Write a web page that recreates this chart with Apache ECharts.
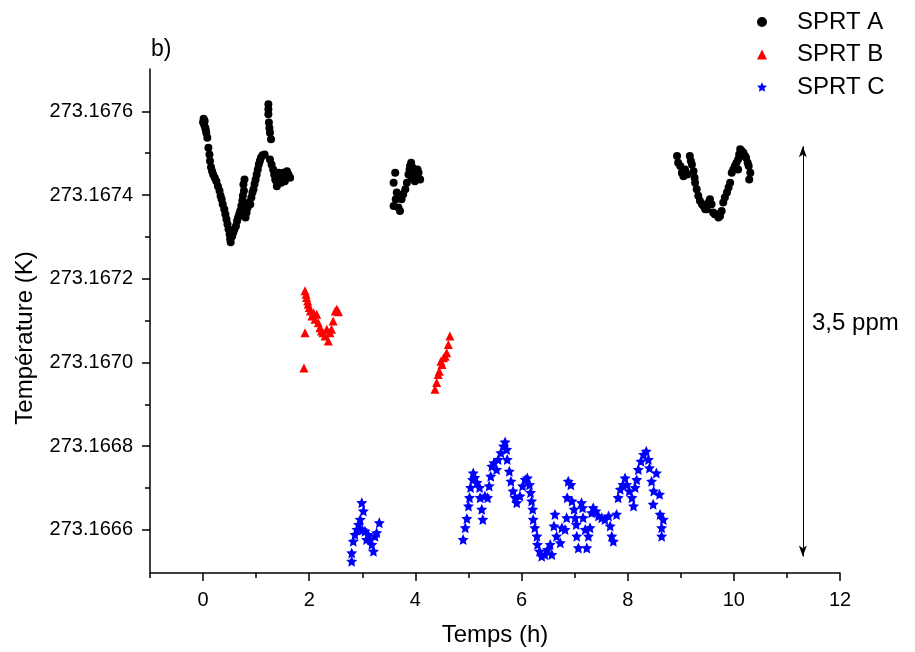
<!DOCTYPE html>
<html>
<head>
<meta charset="utf-8">
<script src="https://cdn.jsdelivr.net/npm/echarts@6/dist/echarts.min.js"></script>
<style>html,body{margin:0;padding:0;background:#fff}#c{width:915px;height:652px}</style>
</head>
<body>
<div id="c"></div>
<script>
const seriesNames = ['SPRT A', 'SPRT B', 'SPRT C'];
const xMajorTicks = [0, 2, 4, 6, 8, 10, 12];
const xMinorTicks = [-1, 1, 3, 5, 7, 9, 11];
const yMajorTicks = [273.1666, 273.1668, 273.1670, 273.1672, 273.1674, 273.1676];
const yMinorTicks = [273.1667, 273.1669, 273.1671, 273.1673, 273.1675];
const ppmArrow = [11.3, 273.1675163, 273.1665365];

const sprtA = [
[0.00,273.167574],[0.01,273.167582],[0.02,273.167568],[0.03,273.167577],[0.04,273.167561],[0.05,273.167556],[0.06,273.167549],[0.08,273.167537],[0.10,273.167513],[0.12,273.167497],[0.13,273.167481],[0.15,273.167466],[0.17,273.167457],[0.19,273.167449],[0.22,273.167441],[0.25,273.167433],[0.28,273.167421],[0.31,273.167410],[0.33,273.167398],[0.35,273.167390],[0.37,273.167378],[0.40,273.167366],[0.42,273.167354],[0.44,273.167342],[0.46,273.167330],[0.48,273.167318],[0.50,273.167306],[0.51,273.167295],[0.52,273.167287],[0.53,273.167299],
[0.55,273.167302],[0.57,273.167311],[0.59,273.167318],[0.62,273.167326],[0.64,273.167338],[0.66,273.167346],[0.68,273.167354],[0.70,273.167362],[0.72,273.167374],[0.74,273.167386],[0.75,273.167398],[0.77,273.167410],[0.76,273.167425],[0.78,273.167437],[0.80,273.167346],[0.82,273.167358],[0.84,273.167370],[0.86,273.167382],[0.89,273.167378],[0.91,273.167394],[0.93,273.167406],[0.95,273.167414],[0.97,273.167426],[0.99,273.167437],[1.01,273.167449],[1.03,273.167461],[1.05,273.167473],[1.07,273.167481],[1.09,273.167489],[1.12,273.167495],[1.16,273.167497],
[1.23,273.167617],[1.23,273.167605],[1.23,273.167593],[1.24,273.167573],[1.25,273.167560],[1.26,273.167549],[1.28,273.167533],
[1.26,273.167485],[1.29,273.167473],[1.32,273.167461],[1.34,273.167449],[1.36,273.167437],[1.39,273.167421],[1.38,273.167433],[1.42,273.167453],[1.45,273.167441],[1.48,273.167445],[1.51,273.167453],[1.54,273.167433],[1.56,273.167445],[1.58,273.167457],[1.61,273.167449],[1.64,273.167441],[1.47,273.167429],
[3.59,273.167429],[3.62,273.167453],[3.65,273.167406],[3.59,273.167374],[3.63,273.167390],[3.68,273.167370],[3.71,273.167362],[3.74,273.167390],[3.77,273.167402],[3.81,273.167414],[3.84,273.167429],[3.87,273.167449],[3.89,273.167461],[3.90,273.167469],[3.92,273.167477],[3.93,273.167441],[3.96,273.167449],[3.99,273.167433],[4.02,273.167445],[4.06,273.167453],[4.09,273.167437],[4.04,273.167461],[3.95,273.167465],
[8.93,273.167493],[8.95,273.167477],[8.99,273.167469],[9.02,273.167453],[9.05,273.167445],[9.08,273.167461],[9.12,273.167449],[9.17,273.167493],[9.19,273.167481],[9.21,273.167473],[9.24,273.167457],[9.26,273.167441],[9.27,273.167429],[9.30,273.167414],[9.33,273.167398],[9.36,273.167386],[9.40,273.167378],[9.43,273.167374],[9.46,273.167366],[9.49,273.167366],[9.52,273.167382],[9.55,273.167390],[9.58,273.167378],[9.61,273.167358],[9.64,273.167354],[9.68,273.167354],[9.71,273.167346],[9.74,273.167350],[9.77,273.167362],[9.80,273.167382],[9.83,273.167394],[9.87,273.167406],[9.90,273.167418],[9.93,273.167429],[9.96,273.167453],[9.99,273.167461],[10.02,273.167469],[10.05,273.167477],[10.08,273.167485],[10.10,273.167497],[10.12,273.167509],[10.15,273.167505],[10.18,273.167501],[10.21,273.167493],[10.23,273.167489],[10.26,273.167477],[10.28,273.167469],[10.31,273.167453],[10.29,273.167437],[10.08,273.167461]
];

const sprtB = [
[1.90,273.166987],[1.92,273.167071],[1.92,273.167171],[1.94,273.167163],[1.95,273.167155],[1.97,273.167147],[1.98,273.167139],[2.00,273.167131],[2.02,273.167123],[2.05,273.167111],[2.08,273.167119],[2.11,273.167103],[2.14,273.167115],[2.17,273.167095],[2.20,273.167083],[2.23,273.167075],[2.26,273.167071],[2.30,273.167063],[2.33,273.167079],[2.36,273.167051],[2.39,273.167071],[2.42,273.167079],[2.45,273.167099],[2.49,273.167123],[2.52,273.167127],[2.55,273.167121],
[4.37,273.166936],[4.40,273.166952],[4.43,273.166971],[4.45,273.166979],[4.48,273.167003],[4.50,273.166995],[4.53,273.167011],[4.56,273.167015],[4.59,273.167023],[4.62,273.167043],[4.65,273.167063]
];

const sprtC = [
[2.80,273.166525],[2.80,273.166545],[2.83,273.166573],[2.86,273.166589],[2.90,273.166601],[2.93,273.166613],[2.96,273.166625],[2.99,273.166665],[3.02,273.166645],[3.00,273.166600],[3.05,273.166597],[3.08,273.166577],[3.11,273.166589],[3.15,273.166577],[3.18,273.166565],[3.21,273.166549],[3.24,273.166585],[3.27,273.166593],[3.32,273.166617],
[4.90,273.166577],[4.94,273.166605],[4.97,273.166627],[5.00,273.166657],[5.02,273.166677],[5.04,273.166701],[5.08,273.166720],[5.09,273.166736],[5.12,273.166725],[5.16,273.166713],[5.21,273.166701],[5.22,273.166677],[5.25,273.166649],[5.27,273.166625],[5.31,273.166681],[5.36,273.166677],[5.39,273.166705],[5.42,273.166728],[5.44,273.166752],[5.48,273.166760],[5.53,273.166744],[5.56,273.166768],[5.61,273.166784],[5.66,273.166800],[5.69,273.166810],[5.72,273.166792],[5.73,273.166768],[5.77,273.166740],[5.80,273.166716],[5.84,273.166693],[5.88,273.166677],[5.91,273.166665],[5.97,273.166681],[6.02,273.166705],[6.07,273.166720],[6.11,273.166724],[6.15,273.166708],[6.17,273.166689],[6.19,273.166669],[6.21,273.166649],[6.22,273.166625],[6.25,273.166605],[6.29,273.166585],[6.30,273.166565],[6.34,273.166549],[6.38,273.166537],[6.44,273.166541],[6.49,273.166553],[6.54,273.166565],[6.57,273.166541],[6.61,273.166609],[6.63,273.166637],[6.66,273.166585],[6.73,273.166569],[6.76,273.166605],[6.82,273.166601],[6.85,273.166629],[6.86,273.166677],[6.88,273.166716],[6.93,273.166708],[6.95,273.166669],[6.99,273.166649],[7.01,273.166629],[7.03,273.166613],[7.04,273.166585],[7.07,273.166557],[7.13,273.166665],[7.15,273.166653],[7.16,273.166629],[7.20,273.166601],[7.23,273.166557],[7.26,273.166585],[7.29,273.166605],[7.32,273.166641],[7.35,273.166653],[7.40,273.166645],[7.45,273.166633],[7.51,273.166629],[7.57,273.166625],[7.64,273.166633],[7.67,273.166609],[7.70,273.166585],[7.73,273.166573],[7.79,273.166637],[7.82,273.166677],[7.86,273.166697],[7.91,273.166708],[7.95,273.166724],[7.98,273.166708],[8.03,273.166693],[8.08,273.166677],[8.11,273.166657],[8.14,273.166701],[8.17,273.166720],[8.20,273.166744],[8.25,273.166764],[8.30,273.166780],[8.35,273.166788],[8.39,273.166768],[8.41,273.166748],[8.45,273.166716],[8.49,273.166693],[8.54,273.166736],[8.60,273.166685],[8.48,273.166661],[8.61,273.166637],[8.67,273.166625],[8.64,273.166605],[8.64,273.166585]
];

const starPath = 'path://M50,0 L64.1,30.6 L97.6,34.5 L72.8,57.4 L79.4,90.5 L50,74 L20.6,90.5 L27.2,57.4 L2.4,34.5 L35.9,30.6 Z';
const FONT = '"Liberation Sans", Arial, sans-serif';
const axisLineStyle = {color: '#000', width: 1.5};

const chart = echarts.init(document.getElementById('c'), null, {renderer: 'canvas'});
chart.setOption({
  animation: false,
  backgroundColor: '#fff',
  textStyle: {fontFamily: FONT},
  grid: {left: 150, right: 75, top: 69, bottom: 78, containLabel: false},
  legend: {
    orient: 'vertical', left: 752, top: 5,
    itemWidth: 10, itemHeight: 10, itemGap: 8.5,
    data: seriesNames,
    textStyle: {fontSize: 24, color: '#000', fontFamily: FONT, padding: [0, 0, 0, 25]}
  },
  xAxis: [{
    type: 'value', min: -1, max: 12, position: 'bottom',
    name: 'Temps (h)', nameLocation: 'middle', nameGap: 50,
    nameTextStyle: {fontSize: 24, color: '#000', fontFamily: FONT},
    axisLine: {show: true, onZero: false, lineStyle: axisLineStyle},
    axisTick: {show: true, inside: false, length: 8, customValues: xMajorTicks, lineStyle: axisLineStyle},
    axisLabel: {show: true, customValues: xMajorTicks, margin: 17, fontSize: 20, color: '#000', fontFamily: FONT},
    splitLine: {show: false}
  }, {
    type: 'value', min: -1, max: 12, position: 'bottom',
    axisLine: {show: false, onZero: false},
    axisTick: {show: true, inside: false, length: 5, customValues: xMinorTicks, lineStyle: axisLineStyle},
    axisLabel: {show: false},
    splitLine: {show: false}
  }],
  yAxis: [{
    type: 'value', min: 273.166497, max: 273.167701, position: 'left',
    axisLine: {show: true, onZero: false, lineStyle: axisLineStyle},
    axisTick: {show: true, inside: false, length: 8, customValues: yMajorTicks, lineStyle: axisLineStyle},
    axisLabel: {show: true, customValues: yMajorTicks, margin: 17, fontSize: 20, color: '#000', fontFamily: FONT,
      formatter: v => Number(v).toFixed(4)},
    splitLine: {show: false}
  }, {
    type: 'value', min: 273.166497, max: 273.167701, position: 'left',
    axisLine: {show: false, onZero: false},
    axisTick: {show: true, inside: false, length: 5, customValues: yMinorTicks, lineStyle: axisLineStyle},
    axisLabel: {show: false},
    splitLine: {show: false}
  }],
  graphic: [
    {type: 'text', x: 25, y: 338, rotation: Math.PI / 2,
     style: {text: 'Température (K)', fontSize: 24, fontFamily: FONT, fill: '#000', align: 'center', verticalAlign: 'middle'}},
    {type: 'text', x: 151, y: 50,
     style: {text: 'b)', fontSize: 23, fontFamily: FONT, fill: '#000', align: 'left', verticalAlign: 'middle'}},
    {type: 'text', x: 812, y: 323,
     style: {text: '3,5 ppm', fontSize: 24, fontFamily: FONT, fill: '#000', align: 'left', verticalAlign: 'middle'}}
  ],
  series: [
    {name: seriesNames[0], type: 'scatter', xAxisIndex: 0, yAxisIndex: 0, data: sprtA,
     symbol: 'circle', symbolSize: 8, itemStyle: {color: '#000', opacity: 1},
     markLine: {
       silent: true, symbol: ['arrow', 'arrow'], symbolSize: [6, 11],
       lineStyle: {color: '#000', width: 1, type: 'solid'},
       label: {show: false}, emphasis: {disabled: true},
       data: [[{coord: [ppmArrow[0], ppmArrow[1]]}, {coord: [ppmArrow[0], ppmArrow[2]]}]]
     }},
    {name: seriesNames[1], type: 'scatter', xAxisIndex: 0, yAxisIndex: 0, data: sprtB,
     symbol: 'triangle', symbolSize: 9, itemStyle: {color: '#ff0000', opacity: 1}},
    {name: seriesNames[2], type: 'scatter', xAxisIndex: 0, yAxisIndex: 0, data: sprtC,
     symbol: starPath, symbolSize: 11, itemStyle: {color: '#0000ff', opacity: 1}}
  ]
});
</script>
</body>
</html>
